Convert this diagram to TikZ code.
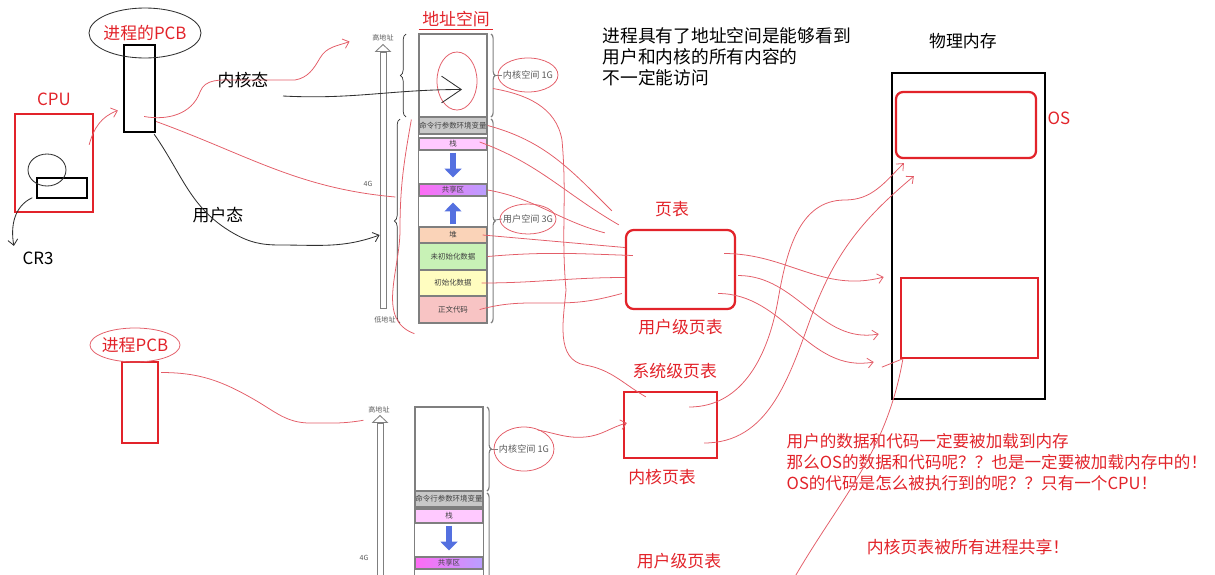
\documentclass[tikz,border=0pt]{standalone}
\usepackage{fontspec}
\setmainfont{Noto Sans CJK SC}
\usetikzlibrary{positioning,calc,arrows.meta,decorations.pathreplacing}
\definecolor{hred}{HTML}{E2232A}
\definecolor{penred}{HTML}{E35D68}
\definecolor{segline}{HTML}{7F7F7F}
\definecolor{cmdgray}{HTML}{C8C8C8}
\definecolor{stackpink}{HTML}{FFC9FF}
\definecolor{sharea}{HTML}{FF6BF5}
\definecolor{shareb}{HTML}{B9A0FF}
\definecolor{heappeach}{HTML}{FAD3B8}
\definecolor{bssgreen}{HTML}{C8F2B6}
\definecolor{datayellow}{HTML}{FFFDC0}
\definecolor{textrose}{HTML}{F8C4C4}
\definecolor{arrowblue}{HTML}{5470E0}
\definecolor{inkgrey}{HTML}{303030}
\tikzset{
  lbl/.style   ={font=\fontsize{12}{15}\selectfont, text=black, inner sep=1pt},
  rlbl/.style  ={lbl, text=hred},
  tny/.style   ={font=\fontsize{5}{6}\selectfont, text=black!65, inner sep=0.5pt},
  blbl/.style  ={font=\fontsize{6.5}{7}\selectfont, text=black!65, inner sep=0.5pt, anchor=west},
  rbox/.style  ={rectangle, draw=hred, line width=1.6pt},
  kbox/.style  ={rectangle, draw=black, line width=1.6pt},
  seg/.style   ={rectangle, draw=segline, line width=0.9pt, minimum width=1.7cm, inner sep=0pt,
                 font=\fontsize{5.3}{6}\selectfont, text=black!75},
  colm/.style  ={draw=segline, line width=1.1pt},
  vbar/.style  ={rectangle, draw=segline, fill=white, line width=0.6pt, minimum width=0.15cm, inner sep=0pt},
  brc/.style   ={decorate, decoration={brace, amplitude=3pt}, draw=segline, line width=0.8pt},
  lbrc/.style  ={decorate, decoration={brace, amplitude=4pt, mirror}, draw=inkgrey, line width=0.5pt},
  barrow/.style={-{Triangle[length=2.2mm,width=4.2mm]}, line width=1.5mm, draw=arrowblue},
  pen/.style   ={draw=penred, line width=0.55pt},
  ink/.style   ={draw=inkgrey, line width=0.6pt},
  barb/.style  ={-{Straight Barb[length=4pt,width=7pt]}}
}

\begin{document}
\begin{tikzpicture}[x=0.025cm, y=-0.025cm]
  \useasboundingbox (0,0) rectangle (1215,574);
  \clip (0,0) rectangle (1215,574);

  % CPU and the first process
  \node[kbox, minimum width=0.775cm, minimum height=2.175cm] (pcb) at (139.5,88.5) {};
  \node[rlbl] (pcblbl) at (145,33) {进程的PCB};
  \node[rbox, minimum width=1.95cm, minimum height=2.45cm] (cpu) at (54,163) {};
  \node[rlbl, above=4pt of cpu] (cpulbl) {CPU};
  \node[kbox, line width=1pt, minimum width=1.25cm, minimum height=0.5cm] (cr3reg) at (62,188) {};
  \node[lbl] (cr3) at (38,258) {CR3};
  \node[lbl] (kmode) at (243,80) {内核态};
  \node[lbl] (umode) at (218,215) {用户态};

  % address space of the first process
  \node[rlbl] (astitle) at (456,19) {地址空间};
  \draw[hred, line width=1pt] ($(astitle.south west)+(-2,1)$) -- ($(astitle.south east)+(2,1)$);
  \node[seg, fill=white, minimum height=2.075cm] (kern1) at (453,75.5) {};
  \node[seg, fill=cmdgray, minimum height=0.425cm] (cmd1) at (453,125.5) {命令行参数环境变量};
  \node[seg, fill=stackpink, minimum height=0.3cm] (stk1) at (453,144) {栈};
  \node[seg, left color=sharea, right color=shareb, minimum height=0.3cm] (shr1) at (453,190) {共享区};
  \node[seg, fill=heappeach, minimum height=0.4cm] (heap1) at (453,235) {堆};
  \node[seg, fill=bssgreen, minimum height=0.675cm] (bss1) at (453,256.5) {未初始化数据};
  \node[seg, fill=datayellow, minimum height=0.65cm] (data1) at (453,283) {初始化数据};
  \node[seg, fill=textrose, minimum height=0.675cm] (code1) at (453,309.5) {正文代码};
  \draw[colm] (kern1.north west) rectangle (code1.south east);
  \draw[barrow] ($(stk1.south)+(0,2)$) -- ($(shr1.north)+(0,-6)$);
  \draw[barrow] ($(heap1.north)+(0,-2)$) -- ($(shr1.south)+(0,6)$);
  \draw[brc] (491,34) -- (491,117);
  \draw[brc] (491,119) -- (491,323);
  \node[blbl] (k1lbl) at (502,75) {内核空间 1G};
  \node[blbl] (u1lbl) at (502,219) {用户空间 3G};
  \draw[segline, line width=0.6pt] (495,75) -- (k1lbl.west);
  \draw[segline, line width=0.6pt] (495,220) -- (u1lbl.west);
  \draw[lbrc] (406,34) -- (406,117);
  \draw[lbrc] (400,119) -- (400,323);
  \node[vbar, minimum height=6.4cm] (vax1) at (383,180) {};
  \draw[segline, fill=white, line width=0.6pt] ($(vax1.north west)+(-4,0)$) -- ($(vax1.north)+(0,-7)$)
        -- ($(vax1.north east)+(4,0)$) -- cycle;
  \node[tny] (hi1) at (383,38) {高地址};
  \node[tny] (lo1) at (385,320) {低地址};
  \node[tny] (g1) at (368,184) {4G};

  % address space of the second process
  \node[seg, fill=white, minimum height=2.1cm] (kern2) at (449,449) {};
  \node[seg, fill=cmdgray, minimum height=0.4cm] (cmd2) at (449,499) {命令行参数环境变量};
  \node[seg, fill=stackpink, minimum height=0.35cm] (stk2) at (449,516) {栈};
  \node[seg, left color=sharea, right color=shareb, minimum height=0.3cm] (shr2) at (449,563) {共享区};
  \draw[colm] (kern2.north west) rectangle ($(kern2.south east)+(0,220)$);
  \draw[barrow] ($(stk2.south)+(0,2)$) -- ($(shr2.north)+(0,-6)$);
  \draw[brc] (487,407) -- (487,491);
  \draw[brc] (487,493) -- (487,720);
  \node[blbl] (k2lbl) at (498,449) {内核空间 1G};
  \draw[segline, line width=0.6pt] (491,449) -- (k2lbl.west);
  \node[vbar, minimum height=7.4cm] (vax2) at (380,571) {};
  \draw[segline, fill=white, line width=0.6pt] ($(vax2.north west)+(-4,0)$) -- ($(vax2.north)+(0,-7)$)
        -- ($(vax2.north east)+(4,0)$) -- cycle;
  \node[tny] (hi2) at (379,410) {高地址};
  \node[tny] (g2) at (364,558) {4G};

  % second process
  \node[rbox, minimum width=0.9cm, minimum height=2.025cm] (pcb2) at (140,402.5) {};
  \node[rlbl] (pcb2lbl) at (135,345) {进程PCB};

  % page tables
  \node[rbox, rounded corners=5.5pt, minimum width=2.725cm, minimum height=1.975cm] (upt) at (680.5,269.5) {};
  \node[rlbl, above=7pt of upt, xshift=-6pt] (ptlbl) {页表};
  \node[rlbl, below=5pt of upt] (uptlbl) {用户级页表};
  \node[rbox, minimum width=2.325cm, minimum height=1.65cm] (kpt) at (670.5,425) {};
  \node[rlbl, above=7pt of kpt, xshift=3pt] (sptlbl) {系统级页表};
  \node[rlbl, below=6pt of kpt, xshift=-6pt] (kptlbl) {内核页表};
  \node[rlbl] (uptlbl2) at (679,561) {用户级页表};

  % physical memory
  \node[kbox, line width=1.8pt, minimum width=3.825cm, minimum height=8.15cm] (phys) at (968.5,236) {};
  \node[lbl, above=15pt of phys, xshift=-4pt] (physlbl) {物理内存};
  \node[rbox, rounded corners=5pt, minimum width=3.5cm, minimum height=1.65cm] (osblk) at (966,125) {};
  \node[rlbl] (oslbl) at (1059,118) {OS};
  \node[rbox, minimum width=3.425cm, minimum height=2cm] (usrblk) at (969.5,318) {};

  % notes
  \node[lbl, font=\fontsize{12.6}{15}\selectfont, anchor=north west, align=left] (note1) at (601,26)
    {进程具有了地址空间是能够看到\\用户和内核的所有内容的\\不一定能访问};
  \node[rlbl, font=\fontsize{11.8}{15}\selectfont, anchor=north west, align=left] (note2) at (785,432)
    {用户的数据和代码一定要被加载到内存\\那么OS的数据和代码呢？？也是一定要被加载内存中的！\\OS的代码是怎么被执行到的呢？？只有一个CPU！};
  \node[rlbl] (note3) at (968,547) {内核页表被所有进程共享！};

  % hand-drawn marks
  \draw[ink] (pcblbl) ellipse [x radius=56, y radius=25];
  \draw[ink] (47,170) ellipse [x radius=19, y radius=16];
  \draw[pen] (pcb2lbl) ellipse [x radius=45, y radius=17];
  \draw[pen] (457,81) ellipse [x radius=20, y radius=29];
  \draw[pen] (k1lbl) ellipse [x radius=30, y radius=17];
  \draw[pen] (u1lbl) ellipse [x radius=28, y radius=15];
  \draw[pen] (k2lbl) ellipse [x radius=30, y radius=22];

  % black connectors
  \coordinate (kstart) at (283,96);
  \draw[ink, -{Straight Barb[length=14pt,width=19pt]}] (kstart) to[out=-3,in=180] ($(kern1.center)+(9,14)$);
  \draw[ink, barb] ($(pcb.south east)+(-2,1)$) to[out=-55,in=150] (233,233) to[out=-30,in=180] (280,245)
        to[out=0,in=200] ($(vax1.west)+(0,55)$);
  \draw[ink, barb] ($(cr3reg.south west)+(-4,-1)$) to[out=205,in=100] ($(cr3.north west)+(-7,-4)$);

  % red connectors: process to address space
  \draw[pen, barb] ($(cpu.north east)+(-5,32)$) to[out=75,in=200] ($(pcb.west)+(-5,22)$);
  \draw[pen, barb] ($(pcb.east)+(-12,28)$) to[out=-10,in=250] (200,92) to[out=70,in=180] (235,80)
        -- (295,80) to[out=10,in=240] (320,58) to[out=60,in=200] ($(vax1.north west)+(-30,-10)$);
  \draw[pen] ($(pcb.east)+(0,33)$) to[out=-20,in=175] ($(vax1.east)+(9,17)$);
  \draw[pen] ($(cmd1.west)+(-7,-6)$) to[out=-100,in=90] (400,230) to[out=-90,in=160] ($(code1.south west)+(-4,10)$);
  \draw[pen] ($(pcb2.east)+(2,-30)$) to[out=0,in=150] (255,400) to[out=-30,in=180] (310,423)
        to[out=0,in=190] ($(hi2.south west)+(-4,6)$);

  % red connectors: address space to page tables
  \draw[pen] (cmd1.east) to[out=-15,in=135] ($(upt.north west)+(-13,-18)$);
  \draw[pen] ($(stk1.east)+(-8,-2)$) to[out=-20,in=150] ($(upt.north west)+(-6,-4)$);
  \draw[pen] (shr1.east) to[out=-10,in=165] ($(upt.north west)+(-20,4)$);
  \draw[pen] ($(heap1.east)+(-5,0)$) to[out=-5,in=175] ($(upt.west)+(0,-22)$);
  \draw[pen] (bss1.east) to[out=5,in=178] ($(upt.west)+(8,-14)$);
  \draw[pen] ($(data1.east)+(-6,0)$) to[out=0,in=180] ($(upt.west)+(0,8)$);
  \draw[pen] ($(code1.east)+(-8,0)$) to[out=15,in=180] (555,303) to[out=0,in=195] ($(upt.west)+(-3,24)$);
  \draw[pen] ($(kern1.center)+(40,13)$) to[out=-10,in=100] (562,140) to[out=-85,in=95] (566,290)
        to[out=-95,in=170] (585,365) to[out=-10,in=150] ($(kpt.north west)+(23,6)$);
  \draw[pen, barb] ($(kern2.east)+(54,-19)$) to[out=-10,in=185] (585,437) to[out=5,in=195] ($(kpt.west)+(4,-2)$);

  % red connectors: page tables to physical memory
  \draw[pen, barb] ($(upt.east)+(-12,-16)$) to[out=0,in=195] ($(phys.west)+(-7,41)$);
  \draw[pen, barb] ($(upt.east)+(2,6)$) to[out=0,in=190] ($(phys.west)+(-12,98)$);
  \draw[pen, barb] ($(upt.east)+(-18,24)$) to[out=0,in=190] ($(phys.west)+(-17,126)$);
  \draw[pen, barb] ($(kpt.east)+(-29,-18)$) to[out=0,in=-100] (778,300) to[out=80,in=180] (845,200)
        to[out=0,in=225] ($(osblk.south west)+(9,4)$);
  \draw[pen, barb] ($(kpt.east)+(-14,18)$) to[out=0,in=-110] (810,320) to[out=70,in=220] ($(osblk.south west)+(19,17)$);
  \coordinate (bstart) at (793,580);
  \draw[pen] (bstart) to[out=60,in=-100] ($(usrblk.south west)+(3,0)$);
  \draw[pen] ($(usrblk.south west)+(-18,8)$) -- ($(usrblk.south west)+(2,0)$);
\end{tikzpicture}
\end{document}
